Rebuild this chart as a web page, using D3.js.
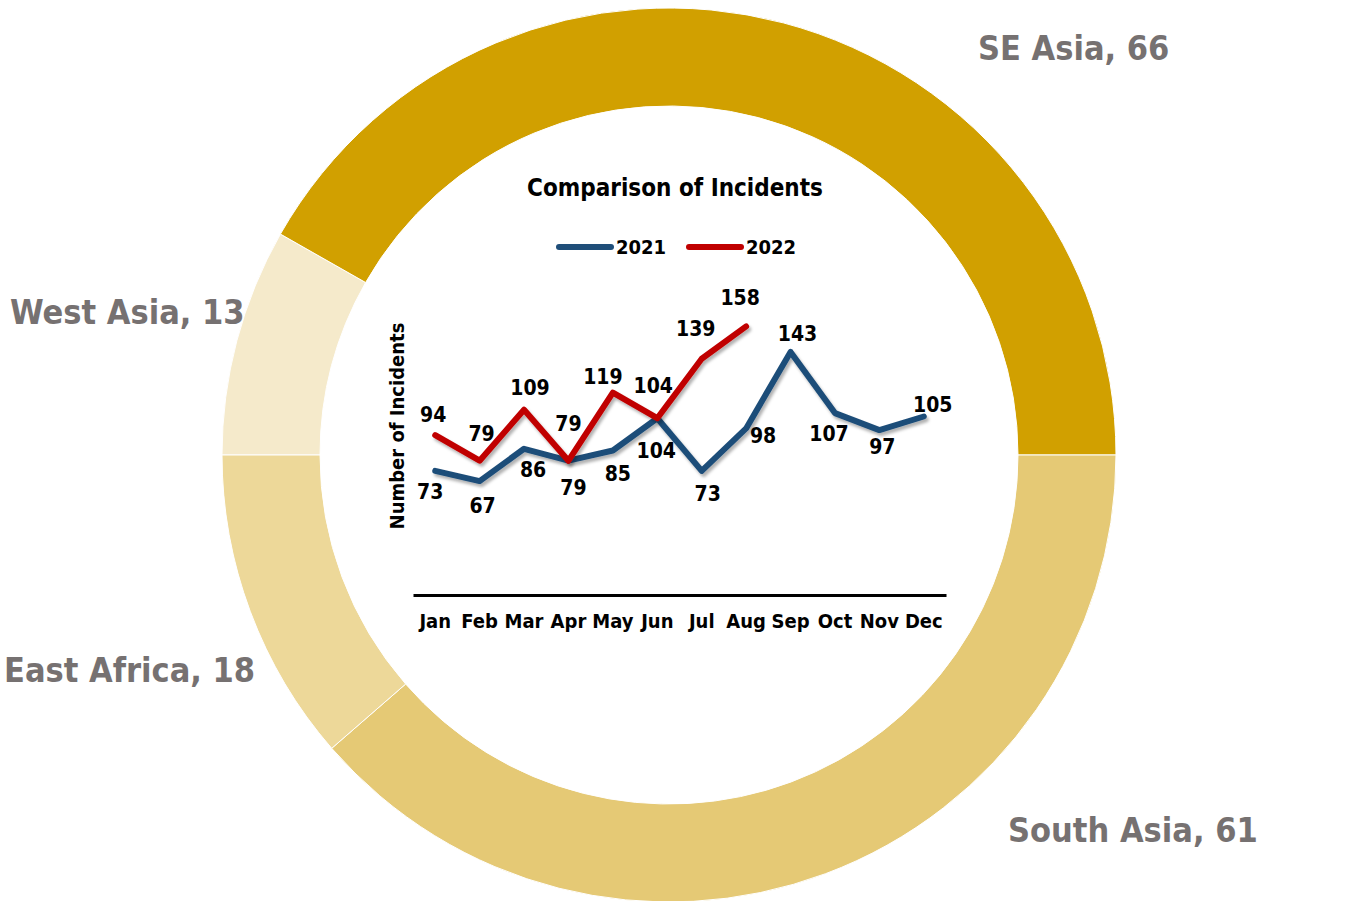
<!DOCTYPE html>
<html>
<head>
<meta charset="utf-8">
<script src="https://cdn.jsdelivr.net/npm/d3@7"></script>
<style>
  body { margin: 0; background: #fff; }
  svg text { font-family: "DejaVu Sans Condensed", "DejaVu Sans", sans-serif; font-weight: bold; }
</style>
</head>
<body>
<script>
// Donut data (clockwise from 9 o'clock)
var regions = ["West Asia", "SE Asia", "South Asia", "East Africa"];
var regionValues = [13, 66, 61, 18];
var regionColors = ["#F5EACB", "#D1A000", "#E5C975", "#EDD899"];

// Line chart data
var months = ["Jan", "Feb", "Mar", "Apr", "May", "Jun", "Jul", "Aug", "Sep", "Oct", "Nov", "Dec"];
var incidents2021 = [73, 67, 86, 79, 85, 104, 73, 98, 143, 107, 97, 105];
var incidents2022 = [94, 79, 109, 79, 119, 104, 139, 158];

// label nudges (styling only)
var nudge2021 = [[-5,21],[3,25],[9,21],[5,27],[5,23],[-1,33],[6,23],[17,8],[7,-18],[-6,21],[3,17],[9,-12]];
var nudge2022 = [[-2,-20],[2,-27],[6,-22],[0,-37],[-10,-16],[-4,-32],[-6,-30],[-6,-28]];

var width = 1349, height = 901;
var cx = 669, cy = 455, outerR = 447, innerR = 349;

var svg = d3.select("body").append("svg")
    .attr("width", width)
    .attr("height", height);

var defs = svg.append("defs");
defs.append("filter").attr("id", "shadow")
    .attr("x", "-10%").attr("y", "-10%").attr("width", "120%").attr("height", "130%")
  .append("feDropShadow")
    .attr("dx", 2).attr("dy", 3).attr("stdDeviation", 1.5)
    .attr("flood-color", "#000").attr("flood-opacity", 0.3);

// ---- donut ----
var pie = d3.pie().sort(null).startAngle(-Math.PI / 2).endAngle(1.5 * Math.PI);
var arc = d3.arc().innerRadius(innerR).outerRadius(outerR);

svg.append("g")
    .attr("transform", "translate(" + cx + "," + cy + ")")
  .selectAll("path")
  .data(pie(regionValues))
  .enter()
  .append("path")
    .attr("d", arc)
    .attr("fill", function(d, i) { return regionColors[i]; })
    .attr("stroke", "#fff")
    .attr("stroke-width", 1);

// donut labels
var donutLabels = [
  { i: 0, x: 10, y: 312 },
  { i: 1, x: 978, y: 48 },
  { i: 2, x: 1008, y: 830 },
  { i: 3, x: 4, y: 670 }
];
svg.append("g").selectAll("text")
  .data(donutLabels)
  .enter()
  .append("text")
    .attr("x", function(d) { return d.x; })
    .attr("y", function(d) { return d.y; })
    .attr("dominant-baseline", "central")
    .attr("font-size", 34)
    .attr("fill", "#767171")
    .text(function(d) { return regions[d.i] + ", " + regionValues[d.i]; });

// ---- line chart ----
var x = d3.scaleBand().domain(months).range([413, 946]);
var y = d3.scaleLinear().domain([0, 180]).range([595, 289]);

svg.append("text")
    .attr("x", 675).attr("y", 188)
    .attr("text-anchor", "middle")
    .attr("dominant-baseline", "central")
    .attr("font-size", 24)
    .attr("fill", "#000")
    .text("Comparison of Incidents");

// legend
var legend = [
  { name: "2021", color: "#1F4E79", x: 559 },
  { name: "2022", color: "#C00000", x: 689 }
];
var lg = svg.append("g").selectAll("g").data(legend).enter().append("g");
lg.append("line")
    .attr("x1", function(d) { return d.x; })
    .attr("x2", function(d) { return d.x + 52; })
    .attr("y1", 247).attr("y2", 247)
    .attr("stroke", function(d) { return d.color; })
    .attr("stroke-width", 6)
    .attr("stroke-linecap", "round");
lg.append("text")
    .attr("x", function(d) { return d.x + 57; })
    .attr("y", 247)
    .attr("dominant-baseline", "central")
    .attr("font-size", 20)
    .text(function(d) { return d.name; });

// y axis title
svg.append("text")
    .attr("transform", "translate(397,426) rotate(-90)")
    .attr("text-anchor", "middle")
    .attr("dominant-baseline", "central")
    .attr("font-size", 20)
    .text("Number of Incidents");

// x axis
var xAxis = svg.append("g")
    .attr("transform", "translate(0,595)")
    .call(d3.axisBottom(x).tickSize(0).tickPadding(19));
xAxis.select(".domain").attr("stroke", "#000").attr("stroke-width", 3);
xAxis.selectAll("text")
    .attr("font-size", 20)
    .attr("fill", "#000")
    .style("font-family", "'DejaVu Sans Condensed', 'DejaVu Sans', sans-serif")
    .style("font-weight", "bold");

var line = d3.line()
    .x(function(d, i) { return x(months[i]) + x.bandwidth() / 2; })
    .y(function(d) { return y(d); });

var series = [
  { values: incidents2021, color: "#1F4E79", nudge: nudge2021 },
  { values: incidents2022, color: "#C00000", nudge: nudge2022 }
];

series.forEach(function(s) {
  svg.append("path")
      .datum(s.values)
      .attr("d", line)
      .attr("fill", "none")
      .attr("stroke", s.color)
      .attr("stroke-width", 6)
      .attr("stroke-linejoin", "round")
      .attr("stroke-linecap", "round")
      .attr("filter", "url(#shadow)");
});

series.forEach(function(s) {
  svg.append("g").selectAll("text")
    .data(s.values)
    .enter()
    .append("text")
      .attr("x", function(d, i) { return x(months[i]) + x.bandwidth() / 2 + s.nudge[i][0]; })
      .attr("y", function(d, i) { return y(d) + s.nudge[i][1]; })
      .attr("text-anchor", "middle")
      .attr("dominant-baseline", "central")
      .attr("font-size", 21)
      .attr("fill", "#000")
      .text(function(d) { return d; });
});
</script>
</body>
</html>
